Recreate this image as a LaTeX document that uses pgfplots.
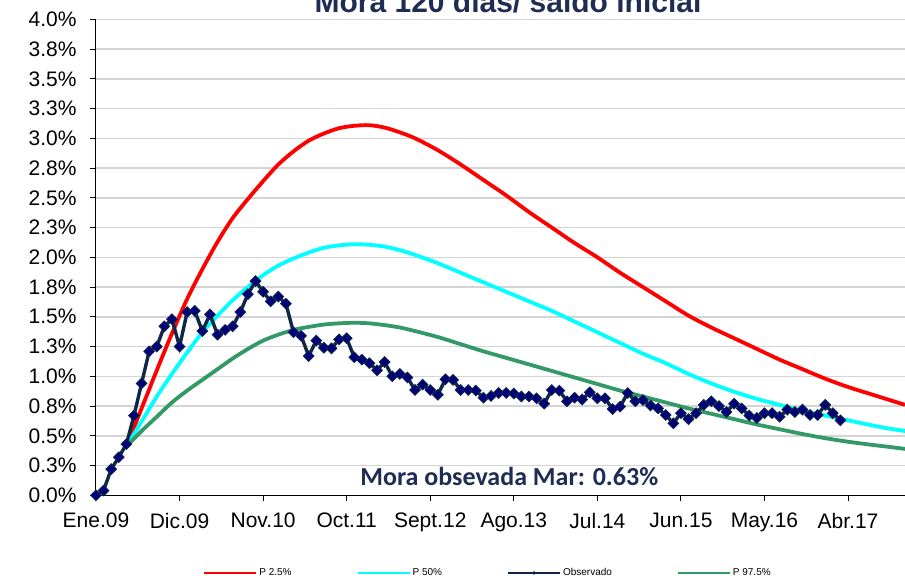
\documentclass[border=0pt]{standalone}
\usepackage{fontspec}
\setmainfont{Liberation Sans}
\newfontfamily\calibri{Carlito}
\usepackage{pgfplots}
\pgfplotsset{compat=1.18}
\definecolor{pred}{RGB}{255,0,0}
\definecolor{pcyan}{RGB}{0,255,255}
\definecolor{pgreen}{HTML}{339966}
\definecolor{obsline}{HTML}{0F2747}
\definecolor{obsfill}{HTML}{00007A}
\definecolor{titlecol}{HTML}{1F2D55}
\definecolor{gridc}{HTML}{D4D4D4}
\begin{document}
\begin{tikzpicture}
\useasboundingbox (0,0) rectangle (905bp,583bp);
\node[anchor=base, font=\fontsize{30bp}{34bp}\selectfont\bfseries, text=titlecol, inner sep=0pt] at (508bp,570bp) {Mora 120 días/ saldo inicial};
\begin{axis}[
  at={(96bp,87.7bp)}, anchor=south west,
  width=809bp, height=476bp, scale only axis,
  xmin=0, xmax=106.5, ymin=0, ymax=4,
  axis lines=left, axis line style={black, line width=1bp, -},
  clip=false,
  xtick={0,11,...,99},
  xticklabels={Ene.09,Dic.09,Nov.10,Oct.11,Sept.12,Ago.13,Jul.14,Jun.15,May.16,Abr.17},
  ytick={0,0.25,...,4},
  yticklabels={0.0\%,0.3\%,0.5\%,0.8\%,1.0\%,1.3\%,1.5\%,1.8\%,2.0\%,2.3\%,2.5\%,2.8\%,3.0\%,3.3\%,3.5\%,3.8\%,4.0\%},
  tick align=outside, major tick length=6bp,
  tick style={black, line width=1bp},
  ymajorgrids, major grid style={gridc, line width=1.5bp},
  ticklabel style={font=\fontsize{21bp}{24bp}\selectfont},
  yticklabel style={xshift=-10bp},
  xticklabel style={yshift=-8bp},
  legend style={at={(0.4846,-0.1632)}, anchor=center, draw=none, fill=none,
    font=\fontsize{10bp}{12bp}\selectfont, inner sep=0pt,
    /tikz/every even column/.append style={column sep=63bp}},
  legend columns=4,
  legend cell align=left,
]
\addlegendimage{legend image code/.code={\draw[pred, line width=2bp] (0bp,0bp) -- (52bp,0bp);}}
\addlegendentry{P 2.5\%}
\addlegendimage{legend image code/.code={\draw[pcyan, line width=2bp] (0bp,0bp) -- (52bp,0bp);}}
\addlegendentry{P 50\%}
\addlegendimage{legend image code/.code={\draw[obsline, line width=2bp] (0bp,0bp) -- (52bp,0bp); \fill[obsline] (26bp,0bp) circle (1.5bp);}}
\addlegendentry{Observado}
\addlegendimage{legend image code/.code={\draw[pgreen, line width=2bp] (0bp,0bp) -- (52bp,0bp);}}
\addlegendentry{P 97.5\%}

% P 2.5%
\addplot[pred, line width=3.8bp, smooth, tension=0.5, forget plot] coordinates {
(4,0.41) (6,0.73) (8,1.05) (10,1.36) (12,1.65) (14,1.90) (16,2.13) (18,2.33) (20,2.49) (22,2.64) (24,2.78) (26,2.89) (28,2.98) (30,3.04) (32,3.085) (34,3.105) (36,3.11) (38,3.09) (40,3.05) (42,3.00) (45,2.90) (48,2.78) (51,2.65) (54,2.52) (57,2.38) (60,2.25) (63,2.12) (66,2.00) (69,1.87) (72,1.75) (75,1.63) (78,1.51) (81,1.41) (84,1.32) (87,1.23) (90,1.14) (93,1.06) (96,0.98) (99,0.91) (102,0.85) (104,0.81) (106.5,0.76)
};
% P 50%
\addplot[pcyan, line width=3.8bp, smooth, tension=0.5, forget plot] coordinates {
(4,0.41) (6,0.62) (8,0.83) (10,1.02) (12,1.20) (14,1.37) (16,1.51) (18,1.64) (20,1.75) (22,1.85) (24,1.93) (26,1.99) (28,2.04) (30,2.08) (32,2.10) (34,2.11) (36,2.105) (38,2.09) (40,2.06) (42,2.02) (45,1.95) (48,1.87) (51,1.79) (54,1.71) (57,1.63) (60,1.55) (63,1.46) (66,1.37) (69,1.28) (72,1.19) (75,1.11) (78,1.02) (81,0.94) (84,0.87) (87,0.81) (90,0.76) (93,0.71) (96,0.67) (99,0.63) (102,0.59) (104,0.565) (106.5,0.54)
};
% P 97.5%
\addplot[pgreen, line width=3.8bp, smooth, tension=0.5, forget plot] coordinates {
(4,0.41) (6,0.54) (8,0.66) (10,0.78) (12,0.88) (14,0.97) (16,1.06) (18,1.15) (20,1.23) (22,1.30) (24,1.35) (26,1.39) (28,1.415) (30,1.435) (32,1.445) (34,1.45) (36,1.445) (38,1.43) (40,1.41) (42,1.38) (45,1.33) (48,1.27) (51,1.21) (54,1.155) (57,1.10) (60,1.045) (63,0.99) (66,0.935) (69,0.88) (72,0.83) (75,0.78) (78,0.73) (81,0.685) (84,0.64) (87,0.595) (90,0.555) (93,0.515) (96,0.48) (99,0.45) (102,0.425) (104,0.41) (106.5,0.39)
};
% Observado
\addplot[obsline, line width=3.4bp, mark=square*, mark size=3.8bp,
  mark options={rotate=45, fill=obsfill, draw=obsline, line width=0.8bp}, forget plot] coordinates {
(0,0.00) (1,0.04) (2,0.22) (3,0.32) (4,0.43) (5,0.67) (6,0.94) (7,1.21) (8,1.25) (9,1.42)
(10,1.48) (11,1.25) (12,1.54) (13,1.55) (14,1.38) (15,1.52) (16,1.35) (17,1.39) (18,1.42) (19,1.54)
(20,1.69) (21,1.80) (22,1.71) (23,1.63) (24,1.67) (25,1.61) (26,1.37) (27,1.34) (28,1.17) (29,1.30)
(30,1.24) (31,1.235) (32,1.31) (33,1.32) (34,1.16) (35,1.14) (36,1.11) (37,1.05) (38,1.12) (39,1.00)
(40,1.02) (41,0.99) (42,0.885) (43,0.93) (44,0.885) (45,0.845) (46,0.975) (47,0.97) (48,0.885) (49,0.885)
(50,0.88) (51,0.82) (52,0.835) (53,0.86) (54,0.86) (55,0.855) (56,0.83) (57,0.83) (58,0.815) (59,0.77)
(60,0.885) (61,0.88) (62,0.79) (63,0.82) (64,0.805) (65,0.865) (66,0.815) (67,0.815) (68,0.725) (69,0.745)
(70,0.86) (71,0.79) (72,0.80) (73,0.755) (74,0.73) (75,0.675) (76,0.605) (77,0.69) (78,0.64) (79,0.69)
(80,0.76) (81,0.79) (82,0.75) (83,0.70) (84,0.77) (85,0.73) (86,0.67) (87,0.65) (88,0.69) (89,0.69)
(90,0.66) (91,0.72) (92,0.70) (93,0.72) (94,0.675) (95,0.675) (96,0.76) (97,0.69) (98,0.63)
};
\node[font=\calibri\bfseries\fontsize{26bp}{29bp}\selectfont, text=titlecol] at (axis cs:54.4,0.16) {Mora obsevada Mar: 0.63\%};
\end{axis}
\end{tikzpicture}
\end{document}
